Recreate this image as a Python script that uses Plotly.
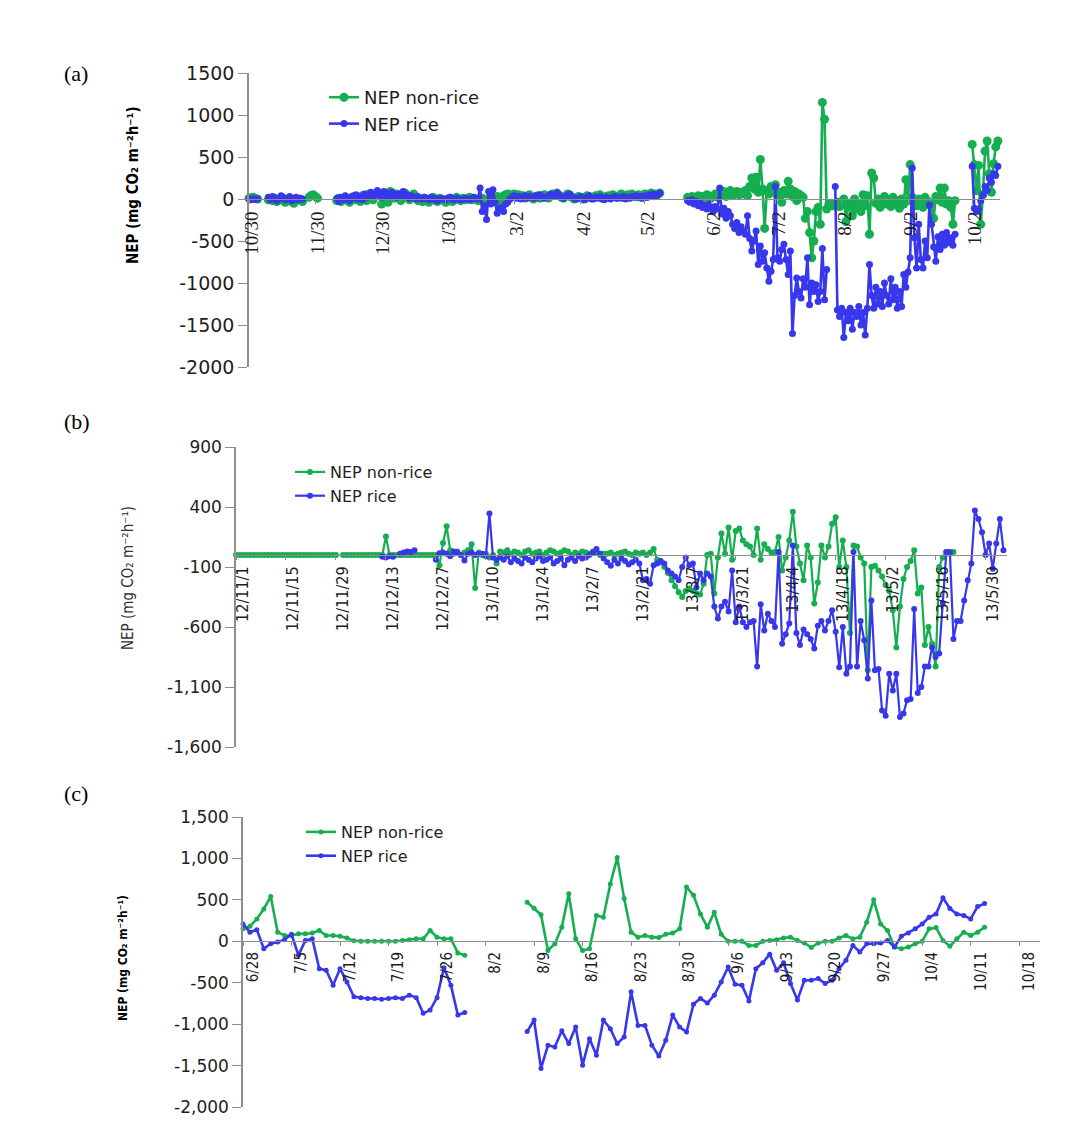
import plotly.graph_objects as go
import pandas as pd

W, H = 1092, 1129
OFF = 8  # page offset of the plot div


def fx(px):
    return (px - OFF) / W


def fy(py):
    return 1 - (py - OFF) / H


GREEN = "#15AE50"
BLUE = "#3737EC"
AXIS = "#8E8E8E"
TXT = "#1E1E1E"

# ---------------- Panel (a) data: daily segments (start date, values) ----------------
a_green_s1 = [10, 15, 20, 5, 0]
a_green_s2 = [-10, 5, -20, 10, -30, -10, 0, -20, -40, -10, 10, -30, -50, -20, 0, -10, -30]
a_green_s3 = [20, 40, 50, 30, 10]
a_green_s4 = [
    -20, 10, -30, -10, 20, -20, -40, 0, 30, -10,
    20, -30, 40, 10, -20, 60, 30, -10, 50, 80,
    40, -60, 70, 20, -40, 90, 50, 10, 60, 30,
    -20, 40, 70, 20, -10, 30, 60, 10, -20, 0,
    -30, 10, -10, -40, 0, 20, -20, -30, 10, -10,
    -20, -40, 0, 10, -30, -10, 20, 0, -20, 10,
    -10, 0, 20, -10, 10, 0, -20,
    -10, 10, -20, -40, 0, 20, -30, -10, 30, -50, -20, 40, 50, 60, 30,
    40, 60, 30, 50, 20, 40, 10, 30, 50, 20,
    0, 30, 40, 10, 20, 50, 30, 10, 40, 60,
    50, 70, 40, 20, 10, 40, 60, 30, 20, 0,
    10, 30, 20, 0, 20, 40, 30, 10, 20, 40,
    30, 50, 20, 10, 30, 40, 20, 50, 30, 20,
    40, 60, 30, 20, 50, 30, 60, 40, 30, 50,
    20, 40, 60, 30, 50, 70, 40, 60, 50, 70,
]
a_green_s5 = [
    20, 10, 30, 0, 20, 40, 10, 30, 20, 50, 30, 10, 40, 60, 20,
    80, 50, 90, 30, 60, 100, 40, 70, 90, 50, 80, 60, 100, 40,
    150, 250, 120, 260,
    80, 470, 120, -350, 100, 60, 150, 90, 170, 40,
    80, -40, 100, 60, 210, 120, 30, 90, -20, 60,
    40, 20, -230, -150, -400, -700, -500, -150, -100, -300,
    1150, 950,
    -120, -60, -50, -80, -70, -40, -90,
    -30, 0, -270, -100, -50, -200, 0, -120, -60, -150, 50,
    -80, 40, -420, 310, 250, -50, 0, -100, -30, 30,
    -60, -10, -90, 20, -50, -20, -110, 0, -60, 230,
    -20, 410, 20, -40, -80, 0, -60, -100, 20, -20,
    -70, -50, -230, 30, -10, 130, -40, 130, -60, -20,
    -100, -300, -20,
]
a_green_s6 = [650, 410, 100, 400, -300, 50, 570, 690, 300, 80, 420, 620, 690]

a_blue_s1 = [0, -10, 5, -5, 0]
a_blue_s2 = [20, -10, 30, 10, -20, 0, 40, 20, -10, 10, 30, -20, 0, 20, -10, 10, 0]
a_blue_s4 = [
    10, -30, 20, -10, 40, 0, -20, 30, 10, 50,
    0, 30, -10, 60, 20, 40, 80, 30, 50, 100,
    60, 20, 90, 40, 70, 30, 80, 50, 20, 60,
    40, 90, 30, 50, 10, 40, 20, 0, 30, 10,
    0, 20, 10, -10, 20, 0, 10, -20, 0, 10,
    0, -10, 10, 20, 0, -10, 10, 0, -10, 0,
    10, 0, -10, 0, 20, 10, 0,
    130, -150, -80, -245, 90, -60, 110, -40, -170, -120, -100, -150, -60, -40, 0,
    20, 40, 10, 30, 0, 20, 40, 10, 30, 20,
    10, 40, 20, 50, 30, 10, 20, 40, 60, 30,
    40, 70, 50, 20, 10, 30, 50, 60, 30, 10,
    0, 10, 30, 10, -10, 20, 40, 10, 0, 20,
    10, 30, 0, -10, 20, 10, 0, 20, 30, 10,
    20, 10, 30, 0, 20, 10, 30, 20, 40, 20,
    30, 10, 40, 20, 50, 30, 60, 40, 50, 70,
]
a_blue_s5 = [
    -20, -40, -10, -60, -30, -80, -50, -100, -70, -120, -60, -100, -150, -90,
    -120, 130, -180, -110, -230, -150, -200,
    -300, -350, -280, -400, -330, -380, -420, -200, -470, -620,
    -500, -380, -780, -560, -740, -640, -820, -980, -860, -720,
    150, -700, -740, -600, -540, -720, -900, -620, -1600, -1150,
    -940, -1100, -1180, -950, -1050, -700, -1260, -1000, -1100, -1020,
    -1220, -1100, -590, -1200, -840,
    None, None, None,
    150, -1320, -1400, -1300, -1650, -1350, -1450, -1300, -1550, -1350,
    -1400, -1280, -1500, -1350, -1620, -1300,
    -780, -1150, -1300, -1050, -1250, -1100, -1280, -1000, -1150, -1250,
    -950, -1200, -1050, -1300, -1100, -1280, -900, -1050, -870, -700,
    370, -460, -820, -300, -720, -820, -500, -700, -70, -300,
    -570, -740, -450, -600, -420, -550, -400, -520, -460, -550,
    -420,
]
a_blue_s6 = [390, -110, -150, -120, -20, 50, 150, 100, 250, 200, 300, 280, 390]

a_tick_dates = ["2011-10-30", "2011-11-30", "2011-12-30", "2012-01-30", "2012-03-02",
                "2012-04-02", "2012-05-02", "2012-06-02", "2012-07-02", "2012-08-02",
                "2012-09-02", "2012-10-02"]
a_tick_text = ["10/30", "11/30", "12/30", "1/30", "3/2", "4/2", "5/2", "6/2",
               "7/2", "8/2", "9/2", "10/2"]
a_y_ticks = [1500, 1000, 500, 0, -500, -1000, -1500, -2000]
a_y_text = ["1500", "1000", "500", "0", "-500", "-1000", "-1500", "-2000"]

# ---------------- Panel (b) data ----------------
b_green_s1 = [0, 0, 0, 0, 0, 0, 0, 0, 0, 0, 0, 0, 0, 0, 0, 0, 0, 0, 0, 0,
              0, 0, 0, 0, 0, 0, 0, 0, 0]
b_green_s2 = [
    0, 0, 0, 0, 0, 0, 0, 0, 0, 0, 0, 0,
    155,
    0, 0, 0, 0, 0, 0, 0, 0, 0, 0, 0, 0, 0, 0,
    -85, 100, 240, 40, 10, 30, 0, 20, 40, 90, -275, 20, 0, 10, -20, 0, -70,
    30, 20, 40, 10, 30, 20, 0, 30, 40, 10, 20, 30, 0, 20, 40,
    30, 10, 20, 40, 30, 0, 20, 10, 30, 20, 10, 30, 20, 0, 10,
    10, 20, 0, 10, 20, 30, 10, 0, 20, 10,
    20, 0, 20, 50, -40, -60, -100, -150, -210, -260,
    -310, -350, -300, -280, -300, -320, -330, -240, 0, 10,
    -320, -20, 180, 10, 230, -40, 200, 220, 120, 90,
    70, 0, 220, -40, 90, 50, 20, 25, 150, -130,
    -20, 120, 360, 70, -70, -210, 80, -20, -405, -230,
    80, -20, 70, 260, 315, -100, 120, -100, -650, 80,
    70, -20, -70, -960, -100, -90, -130, -180, -250, -300,
    -460, -770, -430, -200, -100, -50, 40, -320, -270, -750,
    -600, -740, -930, -100, -20, 25, 10, 25,
]
b_blue_s1 = [-15, -20, -10, -15]
b_blue_s2 = [10, 20, 30, 25, 40]
b_blue_s3 = [
    -40, 15, 20, 10, -10, 30, 20, 0, -45, 10, 20, 0, 10, 10, -10, 345, -20, -40,
    -20, -40, -10, -60, -30, -50, -70, -20, -40, -60, -30, -10, -50, -40, -20, -70, -50,
    -30, -85, -40, -20, -50, -10, -30, -20, 0, 20, 50, 10, -30,
    -60, -90, -40, -70, -30, -50, -80, -60, -40, -70,
    -210, -200, -240, -85, -70, -50, -70, -130, -155, -180,
    -210, -100, -20, -85, -70, -270, -155, -210, -155,
    -180, -430, -530, -430, -390, -470, -130, -560, -430, -560,
    -600, -560, -550, -930, -410, -630, -490, -550, -600, 25,
    -740, -660, -570, 80, -650, -750, -620, -660, -700, -780,
    -590, -550, -630, -550, -460, -640, -935, -600, -990, -930,
    25, -930, -550, -710, -1030, -380, -960, -950, -1295, -1340,
    -990, -1130, -990, -1350, -1320, -1210, -1200, -450, -1150, -1100,
    -930, -930, -770, -850, -820,
    -400, 25, 25, -700, -550, -550, -380, -210, -70, 370,
    300, 190, 0, 95, -115, 95, 300, 40,
]

b_tick_dates = ["2012-11-01", "2012-11-15", "2012-11-29", "2012-12-13", "2012-12-27",
                "2013-01-10", "2013-01-24", "2013-02-07", "2013-02-21", "2013-03-07",
                "2013-03-21", "2013-04-04", "2013-04-18", "2013-05-02", "2013-05-16",
                "2013-05-30"]
b_tick_text = ["12/11/1", "12/11/15", "12/11/29", "12/12/13", "12/12/27", "13/1/10",
               "13/1/24", "13/2/7", "13/2/21", "13/3/7", "13/3/21", "13/4/4",
               "13/4/18", "13/5/2", "13/5/16", "13/5/30"]
b_y_ticks = [900, 400, -100, -600, -1100, -1600]
b_y_text = ["900", "400", "-100", "-600", "-1,100", "-1,600"]

# ---------------- Panel (c) data ----------------
c_green_s1 = [
    150, 180, 270, 390, 540, 110, 70, 70, 90, 90,
    100, 130, 70, 70, 60, 40, 5, 0, 0, 0,
    0, 0, 0, 10, 20, 30, 30, 130, 50, 30,
    30, -140, -170,
]
c_green_s2 = [
    470, 400, 320, -110, -30, 170, 575, 30, -110, -90,
    310, 290, 690, 1010, 515, 110, 50, 70, 50, 45,
    85, 100, 150, 655, 555, 330, 170, 350, 85, 0,
    0, 0, -50, -50, 0, 10, 20, 40, 50, 10,
    -20, -75, -20, 0, 0, 40, 70, 30, 50, 230,
    500, 210, 130, -70, -90, -70, -30, 0, 150, 165,
    10, -60, 30, 110, 70, 110, 170,
]
c_blue_s1 = [
    210, 110, 140, -90, -30, -10, 20, 85, -170, 10,
    30, -330, -350, -530, -330, -490, -670, -680, -690, -690,
    -700, -690, -680, -690, -650, -680, -870, -830, -680, -320,
    -530, -890, -860,
]
c_blue_s2 = [
    -1090, -950, -1535, -1255, -1275, -1080, -1235, -1035, -1495, -1175,
    -1375, -950, -1055, -1235, -1155, -610, -1015, -1015, -1255, -1385,
    -1195, -890, -1035, -1095, -760, -690, -745, -650, -490, -310,
    -520, -530, -720, -330, -260, -155, -350, -260, -510, -710,
    -470, -470, -450, -510, -470, -330, -230, -50, -130, -30,
    -30, -20, 10, -70, 60, 100, 150, 210, 290, 330,
    525, 395, 330, 310, 270, 420, 455,
]

c_tick_dates = ["2013-06-28", "2013-07-05", "2013-07-12", "2013-07-19", "2013-07-26",
                "2013-08-02", "2013-08-09", "2013-08-16", "2013-08-23", "2013-08-30",
                "2013-09-06", "2013-09-13", "2013-09-20", "2013-09-27", "2013-10-04",
                "2013-10-11", "2013-10-18"]
c_tick_text = ["6/28", "7/5", "7/12", "7/19", "7/26", "8/2", "8/9", "8/16", "8/23",
               "8/30", "9/6", "9/13", "9/20", "9/27", "10/4", "10/11", "10/18"]
c_y_ticks = [1500, 1000, 500, 0, -500, -1000, -1500, -2000]
c_y_text = ["1,500", "1,000", "500", "0", "-500", "-1,000", "-1,500", "-2,000"]

series_names = ["NEP non-rice", "NEP rice"]


def build(segments):
    xs, ys = [], []
    for start, vals in segments:
        dates = pd.date_range(start, periods=len(vals), freq="D").strftime("%Y-%m-%d")
        xs += list(dates) + [None]
        ys += list(vals) + [None]
    return xs, ys


panels = [
    dict(
        green=[("2011-10-30", a_green_s1), ("2011-11-08", a_green_s2), ("2011-11-27", a_green_s3),
               ("2011-12-10", a_green_s4), ("2012-05-22", a_green_s5), ("2012-10-02", a_green_s6)],
        blue=[("2011-10-30", a_blue_s1), ("2011-11-08", a_blue_s2), ("2011-12-10", a_blue_s4),
              ("2012-05-22", a_blue_s5), ("2012-10-02", a_blue_s6)],
        gsize=9, bsize=7, lw=2.6,
    ),
    dict(
        green=[("2012-11-01", b_green_s1), ("2012-12-01", b_green_s2)],
        blue=[("2012-12-12", b_blue_s1), ("2012-12-17", b_blue_s2), ("2012-12-27", b_blue_s3)],
        gsize=6, bsize=6, lw=2.2,
    ),
    dict(
        green=[("2013-06-28", c_green_s1), ("2013-08-08", c_green_s2)],
        blue=[("2013-06-28", c_blue_s1), ("2013-08-08", c_blue_s2)],
        gsize=5, bsize=5, lw=2.6,
    ),
]

fig = go.Figure()
for i, p in enumerate(panels):
    sfx = "" if i == 0 else str(i + 1)
    leg = "legend" + sfx
    gx, gy = build(p["green"])
    bx, by = build(p["blue"])
    fig.add_trace(go.Scatter(
        x=gx, y=gy, name=series_names[0], mode="lines+markers",
        line=dict(color=GREEN, width=p["lw"]),
        marker=dict(color=GREEN, size=p["gsize"]),
        xaxis="x" + sfx, yaxis="y" + sfx, legend=leg, cliponaxis=False,
    ))
    fig.add_trace(go.Scatter(
        x=bx, y=by, name=series_names[1], mode="lines+markers",
        line=dict(color=BLUE, width=p["lw"]),
        marker=dict(color=BLUE, size=p["bsize"]),
        xaxis="x" + sfx, yaxis="y" + sfx, legend=leg, cliponaxis=False,
    ))

SANS = "DejaVu Sans, Verdana, sans-serif"
NARROW = "Liberation Sans Narrow, DejaVu Sans Condensed, Roboto Condensed, Liberation Sans, sans-serif"
SERIF = "Liberation Serif, DejaVu Serif, serif"


def xaxis(dom, rng, pos, vals, text, font, shift):
    return dict(
        domain=[fx(dom[0]), fx(dom[1])], range=rng, type="date",
        anchor="free", position=fy(pos), automargin=False,
        showline=True, linecolor=AXIS, linewidth=1,
        ticks="outside", ticklen=4, tickcolor=AXIS,
        tickvals=vals, ticktext=text, tickangle=-90, tickfont=font,
        ticklabelshift=shift,
        showgrid=False, zeroline=False,
    )


def yaxis(dom, rng, anchor, vals, text, font):
    return dict(
        domain=[fy(dom[1]), fy(dom[0])], range=rng, anchor=anchor, automargin=False,
        showline=True, linecolor=AXIS, linewidth=1.5,
        ticks="outside", ticklen=9, tickcolor=AXIS,
        tickvals=vals, ticktext=text, tickfont=font,
        showgrid=False, zeroline=False,
    )


ytfont = dict(family=SANS, size=19, color=TXT)
ytfont_b = dict(family=SANS, size=17, color=TXT)

fig.update_layout(
    width=W, height=H,
    margin=dict(l=0, r=0, t=0, b=0, pad=0, autoexpand=False),
    paper_bgcolor="white", plot_bgcolor="white",
    showlegend=True,
    xaxis=xaxis((249, 1000), ["2011-10-30", "2012-10-15"], 199, a_tick_dates, a_tick_text,
                dict(family=SERIF, size=19, color=TXT), 3),
    yaxis=yaxis((73, 367), [-2000, 1500], "x", a_y_ticks, a_y_text, ytfont),
    xaxis2=xaxis((236, 1007), ["2012-11-01", "2013-06-05"], 555, b_tick_dates, b_tick_text,
                 dict(family=NARROW, size=16, color=TXT), 7),
    yaxis2=yaxis((447, 747), [-1600, 900], "x2", b_y_ticks, b_y_text, ytfont_b),
    xaxis3=xaxis((243, 1040), ["2013-06-28", "2013-10-21"], 941, c_tick_dates, c_tick_text,
                 dict(family=NARROW, size=15, color=TXT), 10),
    yaxis3=yaxis((817, 1107), [-2000, 1500], "x3", c_y_ticks, c_y_text, ytfont_b),
    legend=dict(x=fx(324), y=fy(79), xanchor="left", yanchor="top",
                bgcolor="rgba(0,0,0,0)", font=dict(family=SANS, size=18, color=TXT),
                itemwidth=30, tracegroupgap=0),
    legend2=dict(x=fx(290), y=fy(455), xanchor="left", yanchor="top",
                 bgcolor="rgba(0,0,0,0)", font=dict(family=SANS, size=16, color=TXT),
                 itemwidth=30, tracegroupgap=0),
    legend3=dict(x=fx(301), y=fy(815), xanchor="left", yanchor="top",
                 bgcolor="rgba(0,0,0,0)", font=dict(family=SANS, size=16, color=TXT),
                 itemwidth=30, tracegroupgap=0),
)

ytitle = "NEP (mg CO\u2082 m\u207b\u00b2h\u207b\u00b9)"
annotations = [
    dict(text="(a)", x=fx(62), y=fy(74), xanchor="left", yanchor="middle",
         font=dict(family=SERIF, size=22, color="black")),
    dict(text="(b)", x=fx(62), y=fy(422), xanchor="left", yanchor="middle",
         font=dict(family=SERIF, size=22, color="black")),
    dict(text="(c)", x=fx(62), y=fy(793), xanchor="left", yanchor="middle",
         font=dict(family=SERIF, size=22, color="black")),
    dict(text="<b>" + ytitle + "</b>", x=fx(133), y=fy(185), textangle=-90,
         font=dict(family=NARROW, size=15, color="black")),
    dict(text=ytitle, x=fx(128), y=fy(578), textangle=-90,
         font=dict(family=NARROW, size=15, color="#333333")),
    dict(text="<b>" + ytitle + "</b>", x=fx(123), y=fy(958), textangle=-90,
         font=dict(family=NARROW, size=12, color="black")),
]
for a in annotations:
    a.update(xref="paper", yref="paper", showarrow=False,
             xanchor=a.get("xanchor", "center"), yanchor=a.get("yanchor", "middle"))
fig.update_layout(annotations=annotations)

fig.write_html("out.html")
